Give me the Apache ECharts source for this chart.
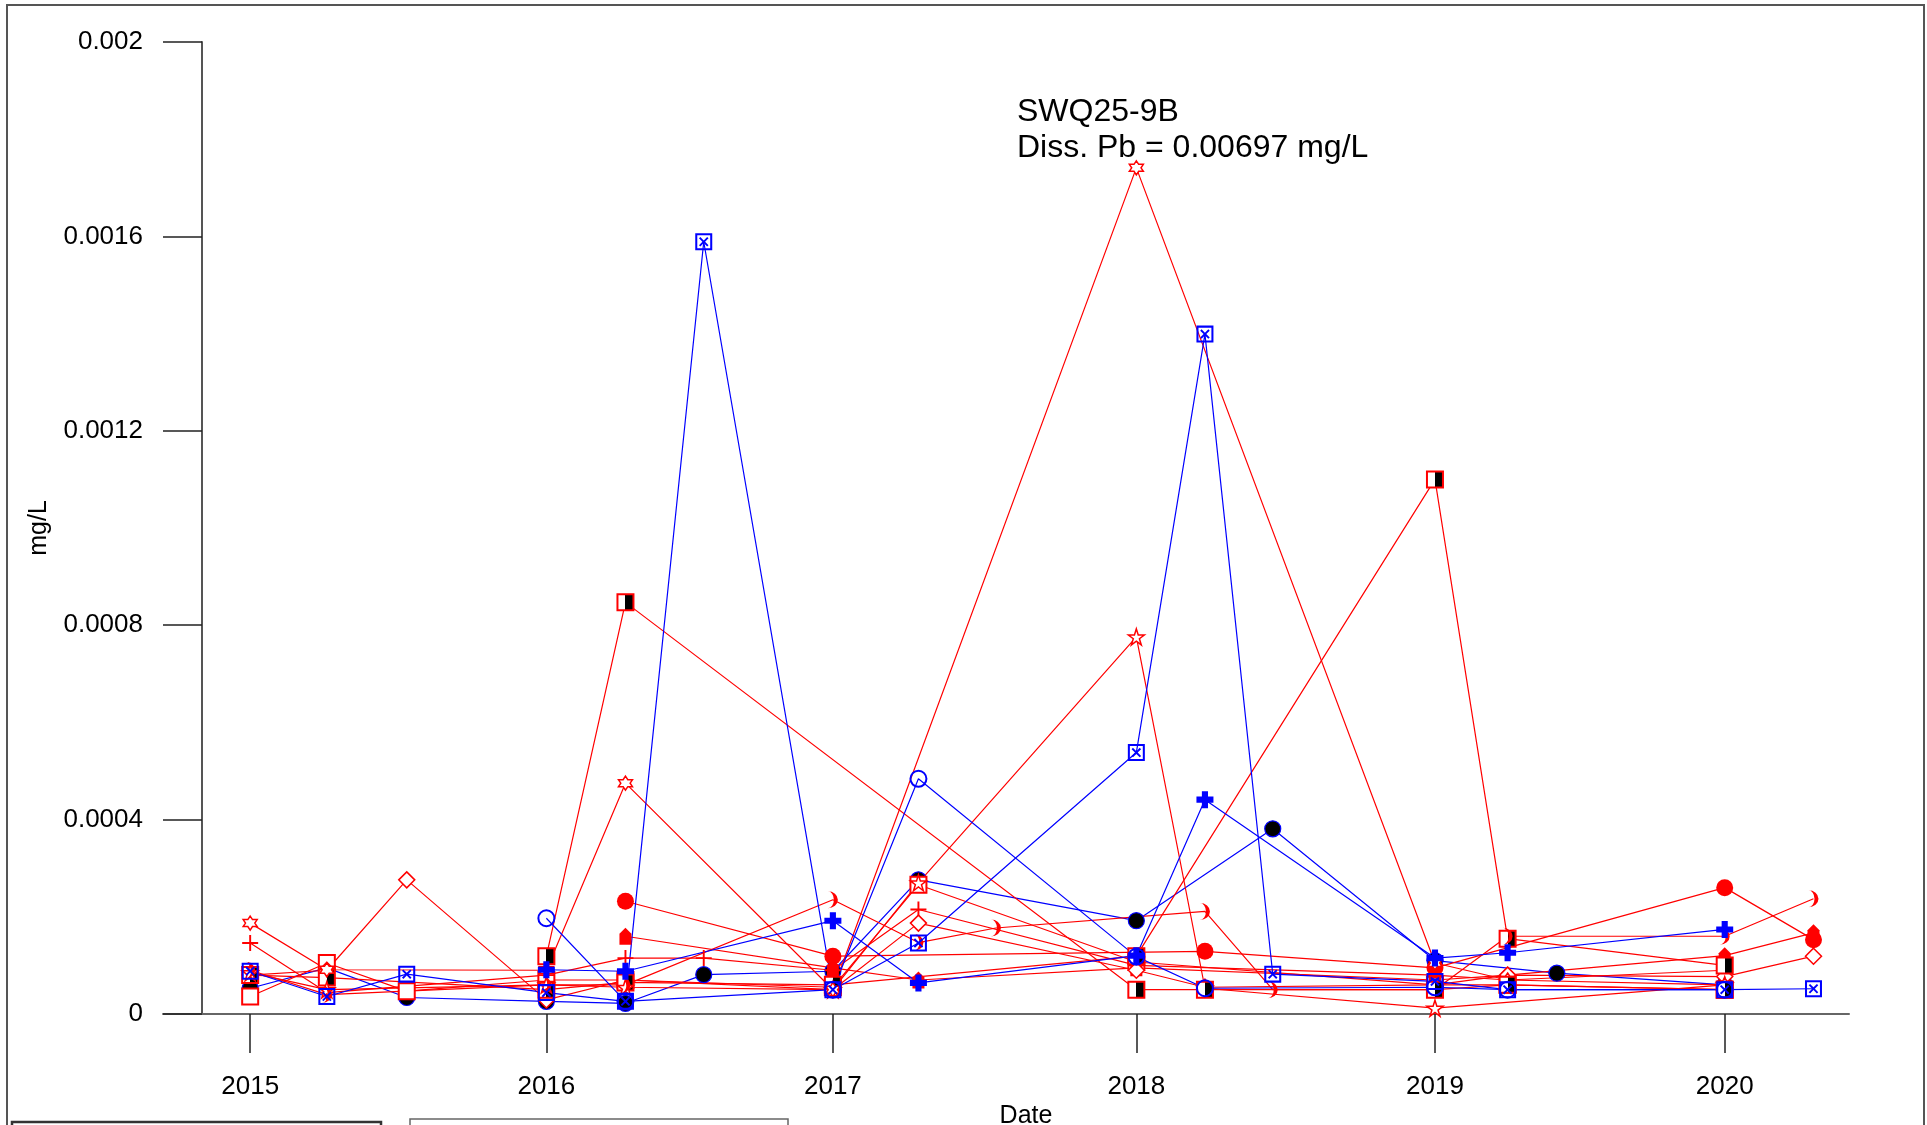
<!DOCTYPE html>
<html><head><meta charset="utf-8">
<script src="https://cdn.jsdelivr.net/npm/echarts@6/dist/echarts.min.js"></script>
<style>html,body{margin:0;padding:0;background:#fff}#c{width:1927px;height:1125px}</style>
</head><body><div id="c"></div>
<script>
// sample dates (x positions of the field visits)
const sampleDates = ['2015-01-13','2015-04-18','2015-07-26','2016-01-15','2016-04-22','2016-07-28','2017-01-04','2017-04-20','2017-07-25','2018-01-15','2018-04-10','2018-07-03','2019-01-20','2019-04-20','2019-06-20','2020-01-14','2020-05-03'];
// dates carrying the year tick labels
const tickDates = ['2015-01-13','2016-01-15','2017-01-04','2018-01-15','2019-01-20','2020-01-14'];
const xRange = ['2014-09-27','2020-06-16'];
const yTicks = [0, 0.0004, 0.0008, 0.0012, 0.0016, 0.002];

// series values (mg/L), one entry per sample date, null = not sampled
const boxedX     = [0.000088,0.000036,0.000082,0.000044,0.000026,0.001589,0.00005,0.000146,null,0.000538,0.001399,0.000082,0.000067,0.00005,null,0.00005,0.000052];
const blueCircle = [null,null,null,0.000197,0.000026,null,0.00005,0.000484,null,0.000118,0.000053,null,0.000055,0.00005,null,0.00005,null];
const bluePlus   = [null,null,null,0.000091,0.000088,null,0.000192,0.000064,null,0.00012,0.000441,null,0.000115,0.000126,null,0.000174,null];
const blackCircle= [0.000053,0.000095,0.000034,0.000026,0.000022,0.000081,0.000088,0.000276,null,0.000192,null,0.000381,0.00011,null,0.000084,0.00006,null];
const hexagram   = [0.000187,0.000091,null,0.00009,0.000475,null,0.00005,null,null,0.001741,null,null,0.000105,0.00007,null,0.00006,null];
const halfSqA    = [null,null,null,0.000119,0.000847,null,null,null,null,0.00005,0.00005,null,0.00005,0.00006,null,0.00005,null];
const halfSqB    = [0.00008,0.000075,null,0.00005,0.000065,null,0.00006,null,null,0.000119,null,null,0.0011,0.000155,null,0.0001,null];
const redStar    = [0.000085,0.00005,null,0.00006,0.000055,null,0.00005,0.00027,null,0.000776,0.000053,null,0.000012,null,null,0.00006,null];
const diamond    = [0.00008,0.00009,0.000276,0.000029,0.00007,null,0.00005,0.000187,null,0.00009,0.000055,null,0.00006,0.00008,null,0.000077,0.000119];
const redCircle  = [null,null,null,null,0.000232,null,0.000119,null,null,null,0.000129,null,0.000095,null,null,0.00026,0.000153];
const crescent   = [0.00009,0.00004,null,0.00006,0.00006,null,0.000235,0.000147,0.000177,null,0.000211,0.00005,0.00005,0.00016,null,0.00016,0.000237];
const redPlus    = [0.000146,0.000044,null,0.00008,0.000115,0.000115,0.00009,0.000215,null,0.0001,null,null,0.00008,0.00007,null,0.00009,null];
const rocket     = [null,null,null,null,0.00016,null,0.000095,0.00007,null,0.000095,null,null,0.00007,0.00008,null,0.00012,0.000167];
const openSq     = [0.000036,0.000105,0.000047,0.00007,0.00007,null,0.000055,0.000266,null,0.000107,null,null,0.00006,0.00006,null,0.00005,null];

const titleLines = ['SWQ25-9B', 'Diss. Pb = 0.00697 mg/L'];

function ts(s){const p=s.split('-');return new Date(+p[0],+p[1]-1,+p[2]).getTime();}
const RED='#ff0000', BLUE='#0000ff';
const FONT='Liberation Sans';
const halfFill = new echarts.graphic.LinearGradient(0,0,1,0,[{offset:0,color:'#fff'},{offset:0.5,color:'#fff'},{offset:0.5,color:'#000'},{offset:1,color:'#000'}]);
const SYM = {
  boxX:'path://M0,0H100V100H0Z M12,12V88H88V12Z M22,30L30,22L50,42L70,22L78,30L58,50L78,70L70,78L50,58L30,78L22,70L42,50Z',
  hex:'path://M50,0L64.43,25L93.3,25L78.87,50L93.3,75L64.43,75L50,100L35.57,75L6.7,75L21.13,50L6.7,25L35.57,25Z',
  star:'path://M50,0L61.23,34.55L97.55,34.55L68.17,55.9L79.39,90.45L50,69.1L20.61,90.45L31.83,55.9L2.45,34.55L38.77,34.55Z',
  plusThin:'path://M44,0H56V44H100V56H56V100H44V56H0V44H44Z',
  plusBold:'path://M32,0H68V32H100V68H68V100H32V68H0V32H32Z',
  moon:'path://M0,0A50,50 0 0 1 0,100A30,50 0 0 0 0,0Z',
  rocket:'path://M50,0L80,35V100H20V35Z'
};
function mk(name, vals, lineColor, symbol, size, itemStyle){
  return {name, type:'line', data: sampleDates.map((d,i)=>[ts(d), vals[i]]).filter(p=>p[1]!==null),
    symbol, symbolSize:size, symbolKeepAspect:false, showAllSymbol:true,
    lineStyle:{color:lineColor,width:1.2}, itemStyle, emphasis:{disabled:true}, silent:true};
}
const series = [
  mk('blackCircle', blackCircle, BLUE, 'circle', 16, {color:'#000', borderColor:BLUE, borderWidth:1.2}),
  mk('openSq', openSq, RED, 'rect', 16, {color:'#fff', borderColor:RED, borderWidth:2}),
  mk('redPlus', redPlus, RED, SYM.plusThin, 16, {color:RED, borderWidth:0}),
  mk('rocket', rocket, RED, SYM.rocket, [12,17], {color:RED, borderWidth:0}),
  mk('diamond', diamond, RED, 'diamond', 16, {color:'#fff', borderColor:RED, borderWidth:1.5}),
  mk('halfSqB', halfSqB, RED, 'rect', 16, {color:halfFill, borderColor:RED, borderWidth:2}),
  mk('redStar', redStar, RED, SYM.star, 16, {color:'#fff', borderColor:RED, borderWidth:1.5}),
  mk('crescent', crescent, RED, SYM.moon, [10,17], {color:RED, borderWidth:0}),
  mk('redCircle', redCircle, RED, 'circle', 17, {color:RED, borderWidth:0}),
  mk('hexagram', hexagram, RED, SYM.hex, 14, {color:'#fff', borderColor:RED, borderWidth:1.5}),
  mk('halfSqA', halfSqA, RED, 'rect', 16, {color:halfFill, borderColor:RED, borderWidth:2}),
  mk('blueCircle', blueCircle, BLUE, 'circle', 16, {color:'transparent', borderColor:BLUE, borderWidth:2}),
  mk('bluePlus', bluePlus, BLUE, SYM.plusBold, 17, {color:BLUE, borderWidth:0}),
  mk('boxedX', boxedX, BLUE, SYM.boxX, 17, {color:BLUE, borderWidth:0})
];

const chart = echarts.init(document.getElementById('c'), null, {renderer:'canvas'});
chart.setOption({
  animation:false,
  backgroundColor:'#fff',
  textStyle:{fontFamily:FONT},
  grid:{left:163, right:78, top:42, bottom:111, containLabel:false, outerBoundsMode:'none'},
  xAxis:{
    type:'value', min:ts(xRange[0]), max:ts(xRange[1]), scale:true,
    axisLine:{onZero:false, lineStyle:{color:'#666', width:2}},
    axisTick:{show:true, length:39, customValues:tickDates.map(ts), lineStyle:{color:'#222', width:1.5}},
    axisLabel:{customValues:tickDates.map(ts), formatter:v=>String(new Date(v).getFullYear()), margin:60, fontSize:26, fontFamily:FONT, color:'#000'},
    splitLine:{show:false}, minorTick:{show:false},
    name:'Date', nameLocation:'middle', nameGap:90, nameMoveOverlap:false,
    nameTextStyle:{fontSize:25, fontFamily:FONT, color:'#000', padding:[0,0,0,40]}
  },
  yAxis:{
    type:'value', min:yTicks[0], max:yTicks[yTicks.length-1], interval:yTicks[1]-yTicks[0], offset:-39,
    axisLine:{show:true, lineStyle:{color:'#555', width:2}},
    axisTick:{show:true, length:39, lineStyle:{color:'#222', width:1.5}},
    axisLabel:{margin:59, fontSize:26, fontFamily:FONT, color:'#000'},
    splitLine:{show:false},
    name:'mg/L', nameLocation:'middle', nameGap:150, nameMoveOverlap:false,
    nameTextStyle:{fontSize:25, fontFamily:FONT, color:'#000'}
  },
  series,
  graphic:[
    {type:'rect', shape:{x:7,y:5,width:1917,height:1200}, style:{fill:'none', stroke:'#555', lineWidth:2}, silent:true},
    {type:'rect', shape:{x:12,y:1122,width:369,height:60}, style:{fill:'none', stroke:'#333', lineWidth:2.5}, silent:true},
    {type:'rect', shape:{x:410,y:1119,width:378,height:60}, style:{fill:'none', stroke:'#666', lineWidth:1.5}, silent:true},
    {type:'text', x:1017, y:112, style:{text:titleLines[0], font:'32px "Liberation Sans"', fill:'#000', textAlign:'left', textVerticalAlign:'middle'}, silent:true},
    {type:'text', x:1017, y:148, style:{text:titleLines[1], font:'32px "Liberation Sans"', fill:'#000', textAlign:'left', textVerticalAlign:'middle'}, silent:true}
  ]
});
</script></body></html>
